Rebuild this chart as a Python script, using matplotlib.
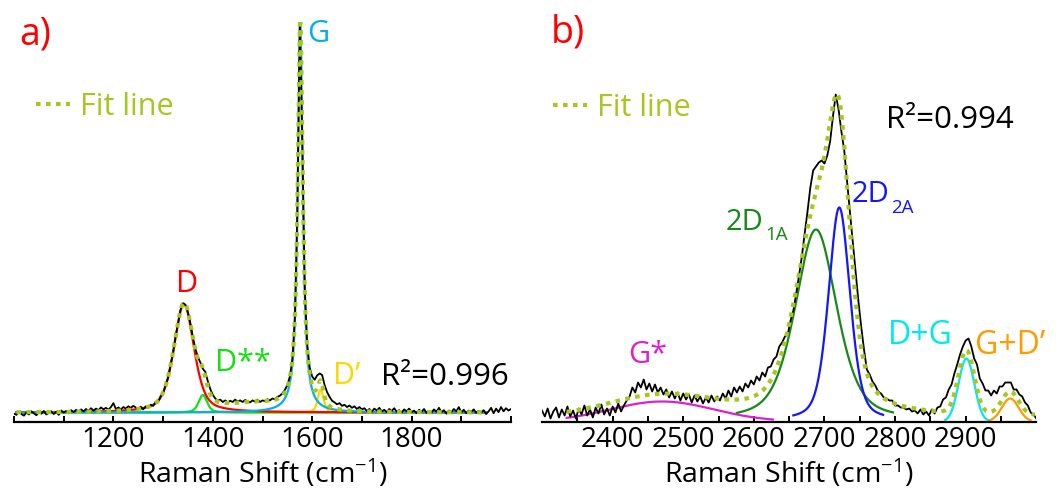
import numpy as np
import matplotlib
matplotlib.use("Agg")
import matplotlib.pyplot as plt
from matplotlib.ticker import FixedLocator, NullFormatter

plt.rcParams['font.family'] = ['Open Sans', 'DejaVu Sans']
plt.rcParams['mathtext.default'] = 'regular'

# ---------------- data : panel a ----------------
left_x_start, left_x_step = 1000, 5
left_intensity = [
    -3, -6, 2, -4, -8, 0, -5, 3, -2, -7,
    1, -3, 4, -5, -1, 3, -4, 2, -6, 5,
    0, 4, -2, 6, 1, 7, 2, 8, 3, 9,
    4, 11, 5, 10, 6, 13, 8, 12, 7, 14,
    24, 9, 13, 8, 14, 10, 16, 12, 17,
    13, 9, 15, 8, 16, 12, 20, 17, 27, 26,
    42, 49, 71, 88, 122, 152, 195, 226, 263, 280,
    275, 256, 228, 192, 163, 142, 128, 112, 104, 80,
    60, 45, 36, 30, 33, 27, 31, 26, 30, 27,
    33, 28, 31, 27, 32, 29, 26, 31, 28, 33,
    27, 31, 29, 34, 31, 36, 34, 40, 43, 49,
    58, 70, 92, 135, 240, 505, 995, 700, 320, 175,
    115, 92, 84, 95, 100, 96, 70, 52, 40, 30,
    26, 21, 24, 17, 20, 14, 18, 12, 16, 9,
    14, 8,
    11, 4, 9, 2, 10, 5, 12, 3, 7, 1,
    9, 4, 11, 2, 6, 0, 8, 3, 10, 1,
    5, -2, 7, 2, 9, -1, 4, 0, 8, 2,
    12, 1, 6, -3, 5, 1, 9, 3, 14, 0,
    7, -2, 5, 2, 8, -1, 4, 0, 6, -4,
    3, 12, -2, 10, 1, 14, 3, 11, 5, 9,
]
left_names = ["D", "D**", "G", "D\u2019"]
left_center = [1342, 1380, 1576, 1617]
left_height = [278, 45, 1000, 58]
left_hwhm = [24, 10, 6, 7]
left_eta = [0.5, 0.5, 1.0, 0.5]
left_bg_center, left_bg_height, left_bg_hwhm = 1490, 20, 70
left_fit_range = (1005, 1950)
left_r2 = "R\u00b2=0.996"

# ---------------- data : panel b ----------------
right_x_start, right_x_step = 2300, 4
right_intensity = [
    11, 5, 13, 3, 10, 14, 4, 12, 6, 15,
    5, 11, 3, 13, 7, 16, 6, 12, 4, 14,
    8, 17, 7, 13, 6, 15, 9, 18, 10, 16,
    21, 25, 34, 29, 39, 34, 42, 32, 38, 30,
    37, 29, 34, 27, 32, 24, 30, 23, 29, 21,
    28, 22, 27, 19, 26, 20, 25, 18, 24, 19,
    26, 20, 25, 21, 28, 23, 31, 25, 34, 29,
    35, 30, 38, 34, 41, 37, 45, 41, 49, 45,
    54, 55, 62, 65, 75, 79, 85, 87, 101, 111,
    128, 146, 165, 188, 210, 234, 251, 255, 259, 261,
    258, 266, 280, 305, 327, 312, 290, 271, 240, 210,
    180, 150, 121, 95, 72, 52, 47, 40, 36, 30,
    28, 24, 23, 21, 21, 16, 16, 14, 14, 12,
    13, 10, 11, 8, 12, 7, 10, 6, 12, 8,
    14, 15, 22, 24, 32, 37, 48, 57, 67, 75,
    81, 83, 75, 63, 57, 43, 38, 31, 31, 26,
    31, 28, 35, 35, 39, 39, 39, 32, 32, 27,
    25, 19, 16, 9, 7, 3,
]
right_names = ["G*", "2D", "2D", "D+G", "G+D\u2019"]
right_subscripts = ["", "1A", "2A", "", ""]
right_center = [2470, 2688, 2721, 2901, 2963]
right_height = [20, 192, 214, 63, 23]
right_hwhm = [86, 35, 18, 13, 14]
right_eta = [0.0, 0.5, 0.4, 0.0, 0.0]
right_lo = [2335, 2576, 2656, 2871, 2934]
right_hi = [2627, 2797, 2783, 2932, 2992]
right_baseline = 5
right_fit_range = (2335, 2998)
right_r2 = "R\u00b2=0.994"

# ---------------- styles ----------------
FIT_C = '#a6c81e'
left_colors = ['#ff0000', '#14e014', '#00b0f0', '#ffd700']
right_colors = ['#e020d0', '#168a16', '#1515ff', '#00e8f0', '#ff9a00']
W, H = 1060, 494


def pvoigt(x, c, a, w, eta):
    r = ((x - c) / w) ** 2
    return a * (eta / (1 + r) + (1 - eta) * np.exp(-np.log(2) * r))


def fx(px):
    return px / W


def fy(py):
    return 1 - py / H


fig = plt.figure(figsize=(W / 100, H / 100), dpi=100)
ax_b = 421.5
axL = fig.add_axes([fx(14), fy(ax_b), fx(511 - 14), (ax_b - 22) / H])
axR = fig.add_axes([fx(542), fy(ax_b), fx(1036.3 - 542), (ax_b - 22) / H])

# ---- panel a ----
xl = left_x_start + left_x_step * np.arange(len(left_intensity))
xs = np.linspace(left_fit_range[0], left_fit_range[1], 2000)
fit_l = pvoigt(xs, left_bg_center, left_bg_height, left_bg_hwhm, 0.0)
order = [3, 1, 0, 2]
for i in range(len(left_names)):
    fit_l = fit_l + pvoigt(xs, left_center[i], left_height[i], left_hwhm[i], left_eta[i])
for i in order:
    axL.plot(xs, pvoigt(xs, left_center[i], left_height[i], left_hwhm[i], left_eta[i]),
             color=left_colors[i], lw=1.6, zorder=2)
axL.plot(xl, left_intensity, color='black', lw=1.3, zorder=3)
fitlineL, = axL.plot(xs, fit_l, color=FIT_C, lw=3.0, ls=(0, (1.1, 1.3)),
                     dash_capstyle='butt', zorder=4)
axL.set_xlim(1000, 2000)
axL.set_ylim(-23, 1000)
axL.xaxis.set_major_locator(FixedLocator([1200, 1400, 1600, 1800]))
axL.xaxis.set_minor_locator(FixedLocator(list(range(1000, 2001, 100))))

# ---- panel b ----
xr = right_x_start + right_x_step * np.arange(len(right_intensity))
xs2 = np.linspace(right_fit_range[0], right_fit_range[1], 2000)
fit_r = np.full_like(xs2, float(right_baseline))
for i in range(len(right_names)):
    fit_r = fit_r + pvoigt(xs2, right_center[i], right_height[i], right_hwhm[i], right_eta[i])
for i in range(len(right_names)):
    xc = np.linspace(right_lo[i], right_hi[i], 600)
    axR.plot(xc, pvoigt(xc, right_center[i], right_height[i], right_hwhm[i], right_eta[i]),
             color=right_colors[i], lw=1.6, zorder=2)
axR.plot(xr, right_intensity, color='black', lw=1.3, zorder=3)
fitlineR, = axR.plot(xs2, fit_r, color=FIT_C, lw=3.0, ls=(0, (1.1, 1.3)),
                     dash_capstyle='butt', zorder=4)
axR.set_xlim(2300, 3000)
axR.set_ylim(0, ax_b - 22)
axR.xaxis.set_major_locator(FixedLocator(list(range(2400, 2901, 100))))
axR.xaxis.set_minor_locator(FixedLocator(list(range(2350, 2951, 50))))

for ax in (axL, axR):
    for s in ('left', 'right', 'top'):
        ax.spines[s].set_visible(False)
    ax.spines['bottom'].set_linewidth(1.6)
    ax.set_yticks([])
    ax.tick_params(axis='x', which='both', direction='in', length=4, width=1.4,
                   labelsize=20, pad=3)
    ax.xaxis.set_minor_formatter(NullFormatter())
    ax.set_xlabel('Raman Shift (cm$^{-1}$)', fontsize=20.5, labelpad=3)
    ax.patch.set_alpha(0)

# ---- legends ----
for ax, line, lx, ly in ((axL, fitlineL, 36, 107), (axR, fitlineR, 553, 108)):
    ax.legend([line], ['Fit line'], loc='center left', bbox_to_anchor=(fx(lx), fy(ly)),
              bbox_transform=fig.transFigure, frameon=False, fontsize=22,
              handlelength=1.1, handletextpad=0.35, borderpad=0, borderaxespad=0,
              labelcolor=FIT_C)

# ---- annotations ----
def label(txt, x, y, color, size=22, ha='center', va='center'):
    fig.text(fx(x), fy(y), txt, color=color, fontsize=size, ha=ha, va=va)

label('a)', 35, 35, '#ff0000', 27)
label('b)', 568, 32, '#ff0000', 27)
label(left_names[2], 318, 34, left_colors[2])
label(left_names[0], 187, 284, left_colors[0])
label(left_names[1], 243, 363, left_colors[1])
label(left_names[3], 347, 376, left_colors[3])
label(left_r2, 445, 377, 'black', 22.5)
label(right_r2, 950, 120, 'black', 22.5)
label(right_names[0], 648, 355, right_colors[0])
label(right_names[1], 726, 230, right_colors[1], 21, ha='left', va='baseline')
label(right_subscripts[1], 765, 240, right_colors[1], 13.5, ha='left', va='baseline')
label(right_names[2], 852, 202, right_colors[2], 21, ha='left', va='baseline')
label(right_subscripts[2], 891, 213, right_colors[2], 13.5, ha='left', va='baseline')
label(right_names[3], 920, 336, right_colors[3], 23)
label(right_names[4], 1010, 346, right_colors[4], 23)

fig.savefig('out.png', dpi=100)
